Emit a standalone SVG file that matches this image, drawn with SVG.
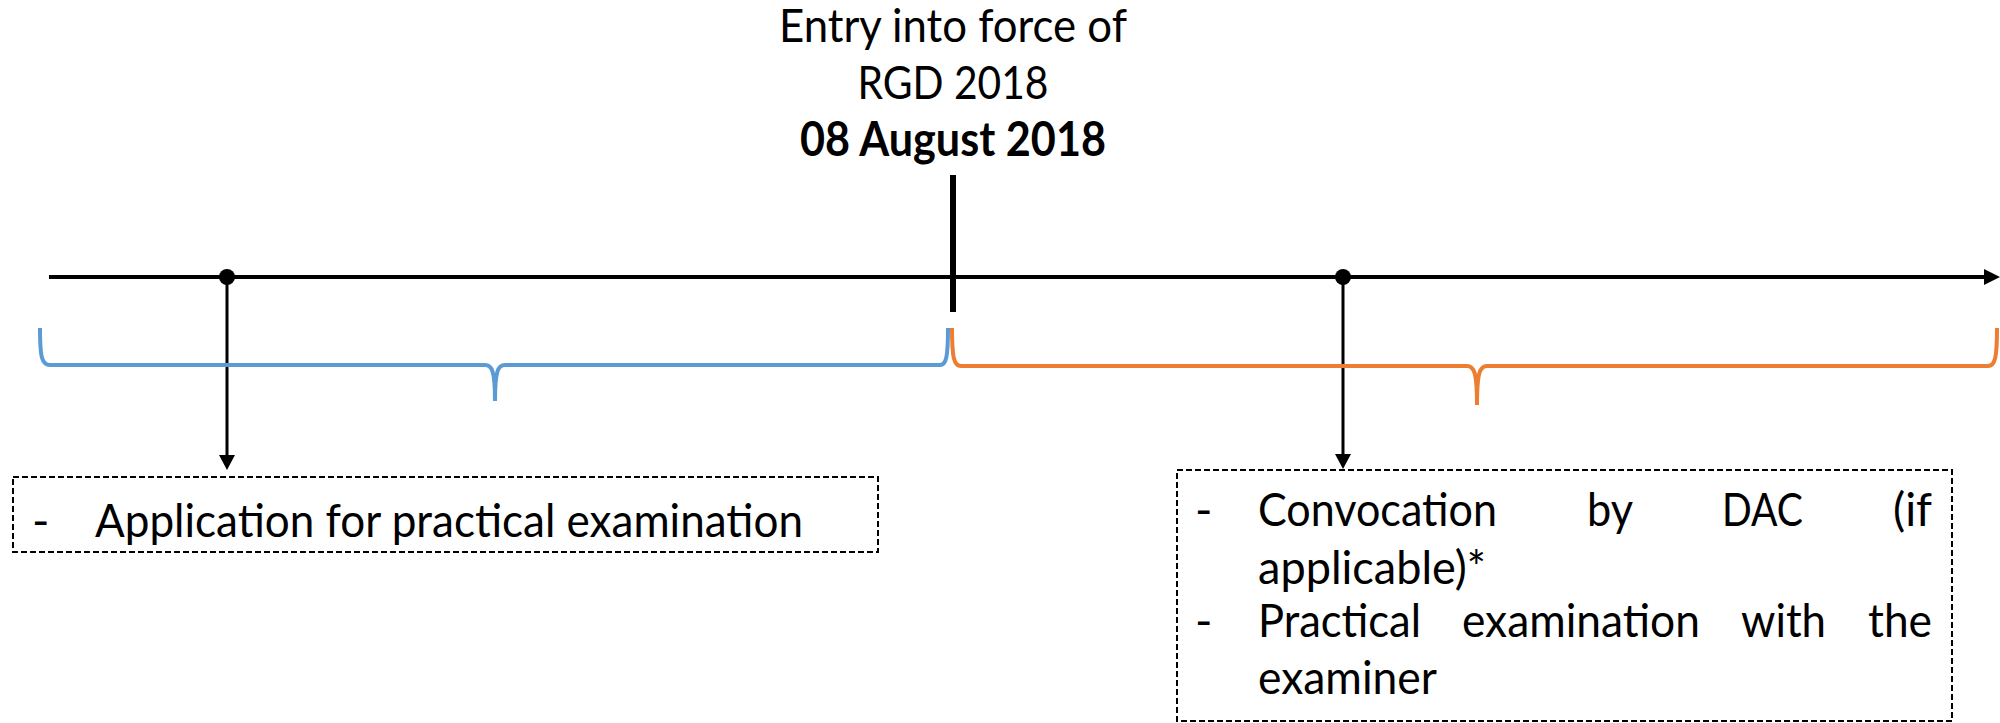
<svg xmlns="http://www.w3.org/2000/svg" width="2000" height="723" viewBox="0 0 2000 723">
<style>
  text { font-family: Lato, "Open Sans", "Liberation Sans", sans-serif; font-size: 47px; fill: #000; }
  .b { font-weight: bold; }
  .mid { text-anchor: middle; }
  .box { fill: none; stroke: #000; stroke-width: 2; stroke-dasharray: 6 3; }
  .axis { stroke: #000; stroke-width: 4; fill: none; }
  .drop { stroke: #000; stroke-width: 3; fill: none; }
  .brace { fill: none; stroke-width: 4; stroke-linecap: butt; }
</style>
<rect width="2000" height="723" fill="#fff"/>

<g id="title">
  <text class="mid" x="953" y="42" textLength="348" lengthAdjust="spacingAndGlyphs">Entry into force of</text>
  <text class="mid" x="953" y="99" textLength="191" lengthAdjust="spacingAndGlyphs">RGD 2018</text>
  <text class="mid b" x="953" y="156" textLength="306" lengthAdjust="spacingAndGlyphs">08 August 2018</text>
</g>

<g id="connectors">
  <line class="axis" x1="49" y1="277" x2="1986" y2="277"/>
  <polygon points="1984,269 1984,285 2000,277" fill="#000"/>
  <line x1="953" y1="175" x2="953" y2="312" stroke="#000" stroke-width="6"/>
  <circle cx="227" cy="277" r="8" fill="#000"/>
  <line class="drop" x1="227" y1="277" x2="227" y2="458"/>
  <polygon points="219,455 235,455 227,470" fill="#000"/>
  <circle cx="1343" cy="277" r="8" fill="#000"/>
  <line class="drop" x1="1343" y1="277" x2="1343" y2="457"/>
  <polygon points="1335,454 1351,454 1343,469" fill="#000"/>
</g>

<g id="brace-before">
  <path class="brace" stroke="#5B9BD5" d="M 40 328 C 40 358, 42 365, 50 365 L 485 365 C 492 365, 495 371, 495 401 C 495 371, 498 365, 505 365 L 940 365 C 946 365, 948 358, 948 328"/>
</g>

<g id="brace-after">
  <path class="brace" stroke="#ED7D31" d="M 952 328 C 952 358, 954 366, 961 366 L 1467 366 C 1474 366, 1477 372, 1477 405 C 1477 372, 1480 366, 1487 366 L 1988 366 C 1995 366, 1997 358, 1997 328"/>
</g>

<g id="box-before">
  <rect class="box" x="13" y="477" width="865" height="75"/>
  <text x="32" y="537">-</text>
  <text x="95" y="537" textLength="708" lengthAdjust="spacingAndGlyphs">Application for practical examination</text>
</g>

<g id="box-after">
  <rect class="box" x="1177" y="470" width="775" height="251"/>
  <text x="1195" y="526">-</text>
  <text x="1258" y="526" textLength="239" lengthAdjust="spacingAndGlyphs">Convocation</text>
  <text x="1587" y="526" textLength="46" lengthAdjust="spacingAndGlyphs">by</text>
  <text x="1722" y="526" textLength="81" lengthAdjust="spacingAndGlyphs">DAC</text>
  <text x="1893" y="526" textLength="39" lengthAdjust="spacingAndGlyphs">(if</text>
  <text x="1258" y="584" textLength="228" lengthAdjust="spacingAndGlyphs">applicable)*</text>
  <text x="1195" y="637">-</text>
  <text x="1258" y="637" textLength="163" lengthAdjust="spacingAndGlyphs">Practical</text>
  <text x="1462" y="637" textLength="238" lengthAdjust="spacingAndGlyphs">examination</text>
  <text x="1741" y="637" textLength="85" lengthAdjust="spacingAndGlyphs">with</text>
  <text x="1868" y="637" textLength="64" lengthAdjust="spacingAndGlyphs">the</text>
  <text x="1258" y="694" textLength="179" lengthAdjust="spacingAndGlyphs">examiner</text>
</g>
</svg>
